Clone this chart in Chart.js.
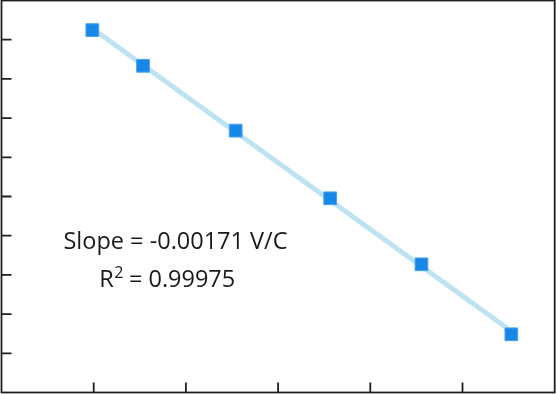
<!DOCTYPE html>
<html lang="en">
<head>
<meta charset="UTF-8">
<title>Slope</title>
<script src="https://cdn.jsdelivr.net/npm/chart.js"></script>
<style>
  html, body { margin: 0; padding: 0; background: #fff; }
  #wrap { width: 556px; height: 394px; }
</style>
</head>
<body>
<div id="wrap"><canvas id="myChart"></canvas></div>
<script>
// measured points (temperature in C, voltage in V)
var temps = [-0.3, 10.7, 30.8, 51.3, 71.1, 90.6];
var volts = [0.6349, 0.6167, 0.5836, 0.5491, 0.5154, 0.4797];
// tick marks (no labels in the original)
var xTicks = [0, 20, 40, 60, 80];
var yTicks = [0.47, 0.49, 0.51, 0.53, 0.55, 0.57, 0.59, 0.61, 0.63];
var xRange = [-20, 100];
var yRange = [0.45, 0.65];
var slopeLabel = 'Slope = -0.00171 V/C';
var r2Value = '0.99975';

// least squares fit line
function fitLine(xs, ys) {
    var n = xs.length, sx = 0, sy = 0, sxx = 0, sxy = 0;
    for (var i = 0; i < n; i++) {
        sx += xs[i]; sy += ys[i];
        sxx += xs[i] * xs[i]; sxy += xs[i] * ys[i];
    }
    var m = (n * sxy - sx * sy) / (n * sxx - sx * sx);
    var b = (sy - m * sx) / n;
    var x0 = Math.min.apply(null, xs), x1 = Math.max.apply(null, xs);
    return [{x: x0, y: m * x0 + b}, {x: x1, y: m * x1 + b}];
}

var points = temps.map(function (t, i) { return {x: t, y: volts[i]}; });

var framePlugin = {
    id: 'frame',
    afterDraw: function (chart) {
        var ctx = chart.ctx, a = chart.chartArea;
        var xs = chart.scales.x, ys = chart.scales.y;
        ctx.save();
        ctx.strokeStyle = '#1e1e1e';
        ctx.lineWidth = 1.8;
        ctx.strokeRect(a.left, a.top, a.right - a.left, a.bottom - a.top);
        ctx.beginPath();
        xTicks.forEach(function (v) {
            var px = xs.getPixelForValue(v);
            ctx.moveTo(px, a.bottom);
            ctx.lineTo(px, a.bottom - 10);
        });
        yTicks.forEach(function (v) {
            var py = ys.getPixelForValue(v);
            ctx.moveTo(a.left, py);
            ctx.lineTo(a.left + 10, py);
        });
        ctx.stroke();

        // annotation text
        ctx.fillStyle = '#1a1a1a';
        ctx.textBaseline = 'alphabetic';
        ctx.font = '23.5px "Open Sans"';
        ctx.textAlign = 'center';
        ctx.fillText(slopeLabel, 175.5, 248.5);

        ctx.textAlign = 'left';
        var big = '23.5px "Open Sans"', small = '16px "Open Sans"';
        ctx.font = big;
        var wR = ctx.measureText('R').width;
        var wRest = ctx.measureText(' = ' + r2Value).width;
        ctx.font = small;
        var w2 = ctx.measureText('2').width;
        var x = 167.2 - (wR + w2 + wRest) / 2;
        ctx.font = big;
        ctx.fillText('R', x, 286.7);
        ctx.font = small;
        ctx.fillText('2', x + wR + 0.5, 278);
        ctx.font = big;
        ctx.fillText(' = ' + r2Value, x + wR + w2, 286.7);
        ctx.restore();
    }
};

new Chart(document.getElementById('myChart'), {
    type: 'scatter',
    data: {
        datasets: [{
            data: points,
            pointStyle: 'rect',
            pointRadius: 9,
            pointHoverRadius: 9,
            backgroundColor: '#1787e8',
            borderColor: '#4da1ec',
            borderWidth: 1,
            order: 1
        }, {
            data: fitLine(temps, volts),
            showLine: true,
            borderColor: '#bde3f3',
            borderWidth: 5,
            pointRadius: 0,
            order: 2
        }]
    },
    options: {
        responsive: true,
        maintainAspectRatio: false,
        animation: false,
        layout: {
            autoPadding: false,
            padding: { left: 1.5, top: 0.5, right: 1.3, bottom: 1.5 }
        },
        scales: {
            x: { type: 'linear', min: xRange[0], max: xRange[1], display: false },
            y: { type: 'linear', min: yRange[0], max: yRange[1], display: false }
        },
        plugins: { legend: { display: false }, tooltip: { enabled: false } }
    },
    plugins: [framePlugin]
});
</script>
</body>
</html>
